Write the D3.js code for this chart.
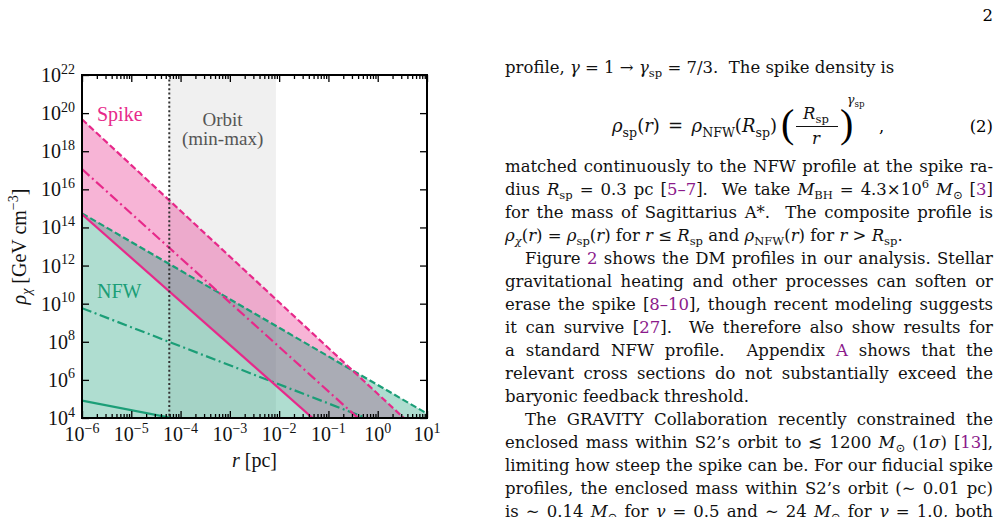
<!DOCTYPE html>
<html>
<head>
<meta charset="utf-8">
<script src="https://cdn.jsdelivr.net/npm/d3@7"></script>
<style>
  html, body { margin: 0; padding: 0; background: #fff; }
  svg { display: block; font-family: "Liberation Serif", "Times New Roman", serif; }
</style>
</head>
<body>
<svg id="page" width="1001" height="517"></svg>
<script>
// ---- Data (straight lines in log-log, so two ends each) ----
const radiusEnds = [1e-6, 10];                       // r [pc]
const profileNames = ['gamma 0.5', 'gamma 1', 'gamma 1.5'];
const nfwDensity = [[8.1e4, 2.6e1], [5.8e9, 5.8e2], [5.5e14, 1.7e4]];        // GeV cm^-3
const spikeDensity = [[4.9e14, 4.9e-2], [1.15e17, 5.4e0], [4.7e19, 7.4e2]];  // GeV cm^-3
const orbitRange = [5.9e-5, 8.6e-3];                 // S2 orbit, pc
const xTickExps = [-6, -5, -4, -3, -2, -1, 0, 1];
const yTickExps = [4, 6, 8, 10, 12, 14, 16, 18, 20, 22];

// ---- Right column text (simple markup: $italic$, @link@, _{sub}, ^{sup}, * = italic inside sub/sup) ----
const bodyLines = [
  { t: 'matched continuously to the NFW profile at the spike ra-', j: true },
  { t: 'dius $R$_{sp} = 0.3 pc [@5–7@].  We take $M$_{BH} = 4.3×10^{6} $M$_{⊙} [@3@]', j: true },
  { t: 'for the mass of Sagittarius A*.  The composite profile is', j: true },
  { t: '$ρ$_{*χ}($r$) = $ρ$_{sp}($r$) for $r$ ≤ $R$_{sp} and $ρ$_{NFW}($r$) for $r$ > $R$_{sp}.', j: false },
  { t: 'Figure @2@ shows the DM profiles in our analysis. Stellar', j: true, indent: true },
  { t: 'gravitational heating and other processes can soften or', j: true },
  { t: 'erase the spike [@8–10@], though recent modeling suggests', j: true },
  { t: 'it can survive [@27@].  We therefore also show results for', j: true },
  { t: 'a standard NFW profile.  Appendix @A@ shows that the', j: true },
  { t: 'relevant cross sections do not substantially exceed the', j: true },
  { t: 'baryonic feedback threshold.', j: false },
  { t: 'The GRAVITY Collaboration recently constrained the', j: true, indent: true },
  { t: 'enclosed mass within S2’s orbit to ≲ 1200 $M$_{⊙} (1$σ$) [@13@],', j: true },
  { t: 'limiting how steep the spike can be. For our fiducial spike', j: true },
  { t: 'profiles, the enclosed mass within S2’s orbit (∼ 0.01 pc)', j: true },
  { t: 'is ∼ 0.14 $M$_{⊙} for $γ$ = 0.5 and ∼ 24 $M$_{⊙} for $γ$ = 1.0, both', j: true }
];

const config = {
  plot: { left: 82, right: 427, top: 75, bottom: 418 },
  green: '#1b9e77',
  pink: '#e7298a',
  fillAlpha: 0.35,
  fontSize: 16.5,
  bodyFont: '"DejaVu Serif", "Liberation Serif", serif',
  linkColor: '#8b1a8b',
  textLeft: 505,
  textRight: 993,
  lineHeight: 23
};
const dashes = [null, '10,3.5,2,3.5', '6.5,3'];

const svg = d3.select('#page');
const P = config.plot;

const x = d3.scaleLog().domain([1e-6, 10]).range([P.left, P.right]);
const y = d3.scaleLog().domain([1e4, 1e22]).range([P.bottom, P.top]);

// markup -> segments
function parseMarkup(s) {
  const re = /(\$[^$]*\$|@[^@]*@|_\{[^}]*\}|\^\{[^}]*\})/;
  return s.split(re).filter(d => d.length).map(d => {
    if (d[0] === '$') return { t: d.slice(1, -1), italic: true };
    if (d[0] === '@') return { t: d.slice(1, -1), link: true };
    if (d[0] === '_' || d[0] === '^') {
      let c = d.slice(2, -1);
      const it = c[0] === '*';
      if (it) c = c.slice(1);
      return { t: c, shift: d[0] === '_' ? 'sub' : 'sup', italic: it };
    }
    return { t: d };
  });
}

function richText(parent, markup, px, py, size, opts = {}) {
  const txt = parent.append('text')
    .attr('x', px).attr('y', py)
    .attr('font-size', size)
    .attr('fill', opts.fill || '#111')
    .attr('text-anchor', opts.anchor || 'start')
    .style('white-space', 'pre');
  if (opts.transform) txt.attr('transform', opts.transform);
  let cur = 0;
  parseMarkup(markup).forEach(seg => {
    const target = seg.shift === 'sub' ? size * 0.27 : seg.shift === 'sup' ? -size * 0.42 : 0;
    const ts = txt.append('tspan').text(seg.t);
    if (target !== cur) { ts.attr('dy', target - cur); cur = target; }
    if (seg.shift) ts.attr('font-size', size * 0.7);
    if (seg.italic) ts.attr('font-style', 'italic');
    if (seg.link) ts.attr('fill', config.linkColor);
  });
  return txt;
}

// stretch the spaces of a line so it spans [x0, x1]
function justify(t, x0, x1) {
  const natural = t.node().getComputedTextLength();
  const spaces = (t.text().match(/ /g) || []).length;
  t.attr('word-spacing', (x1 - x0 - natural) / Math.max(spaces, 1));
}

// ---------------- Chart ----------------
const chart = svg.append('g');

chart.append('defs').append('clipPath').attr('id', 'plot-clip')
  .append('rect')
  .attr('x', P.left).attr('y', P.top)
  .attr('width', P.right - P.left).attr('height', P.bottom - P.top);

const body = chart.append('g').attr('clip-path', 'url(#plot-clip)');

// orbit band
body.append('rect')
  .attr('x', x(orbitRange[0])).attr('y', P.top)
  .attr('width', x(orbitRange[1]) - x(orbitRange[0]))
  .attr('height', P.bottom - P.top)
  .attr('fill', '#f0f0f0');

const asPoints = vals => radiusEnds.map((r, i) => ({ r, rho: vals[i] }));

// pink fill between lowest and highest spike
const spikeBand = radiusEnds.map((r, i) => ({ r, lo: spikeDensity[0][i], hi: spikeDensity[2][i] }));
body.append('path')
  .datum(spikeBand)
  .attr('d', d3.area().x(d => x(d.r)).y0(d => y(d.lo)).y1(d => y(d.hi)))
  .attr('fill', config.pink)
  .attr('fill-opacity', config.fillAlpha);

// green fill from floor to the steepest NFW
body.append('path')
  .datum(asPoints(nfwDensity[2]))
  .attr('d', d3.area().x(d => x(d.r)).y0(y(1e4)).y1(d => y(d.rho)))
  .attr('fill', config.green)
  .attr('fill-opacity', config.fillAlpha);

const line = d3.line().x(d => x(d.r)).y(d => y(d.rho));

profileNames.forEach((name, i) => {
  body.append('path')
    .datum(asPoints(nfwDensity[i]))
    .attr('class', 'nfw ' + name)
    .attr('d', line)
    .attr('fill', 'none')
    .attr('stroke', config.green)
    .attr('stroke-width', 2.2)
    .attr('stroke-dasharray', dashes[i]);
});
profileNames.forEach((name, i) => {
  body.append('path')
    .datum(asPoints(spikeDensity[i]))
    .attr('class', 'spike ' + name)
    .attr('d', line)
    .attr('fill', 'none')
    .attr('stroke', config.pink)
    .attr('stroke-width', 2.2)
    .attr('stroke-dasharray', dashes[i]);
});

// S2 pericentre marker
body.append('line')
  .attr('x1', x(orbitRange[0])).attr('x2', x(orbitRange[0]))
  .attr('y1', P.top).attr('y2', P.bottom)
  .attr('stroke', '#333')
  .attr('stroke-width', 2)
  .attr('stroke-dasharray', '2,2.4');

// annotations
const bandMid = (x(orbitRange[0]) + x(orbitRange[1])) / 2;
chart.append('text').attr('x', bandMid).attr('y', 126).attr('text-anchor', 'middle')
  .attr('font-size', 19).attr('fill', '#555').text('Orbit');
chart.append('text').attr('x', bandMid).attr('y', 145).attr('text-anchor', 'middle')
  .attr('font-size', 19).attr('fill', '#555').text('(min-max)');
chart.append('text').attr('x', 97).attr('y', 121).attr('font-size', 20)
  .attr('fill', config.pink).text('Spike');
chart.append('text').attr('x', 97).attr('y', 298).attr('font-size', 20)
  .attr('fill', config.green).text('NFW');

// axes: ticks pointing inwards
const majorX = xTickExps.map(e => Math.pow(10, e));
const minorX = [];
xTickExps.slice(0, -1).forEach(e => { for (let k = 2; k <= 9; k++) minorX.push(k * Math.pow(10, e)); });
const majorY = yTickExps.map(e => Math.pow(10, e));

function styleAxis(g) {
  g.select('.domain').remove();
  g.selectAll('.tick line').attr('stroke', '#000').attr('stroke-width', 1.3);
}
chart.append('g').attr('transform', `translate(0,${P.bottom})`)
  .call(d3.axisBottom(x).tickValues(majorX).tickSize(-7).tickFormat('')).call(styleAxis);
chart.append('g').attr('transform', `translate(0,${P.bottom})`)
  .call(d3.axisBottom(x).tickValues(minorX).tickSize(-4).tickFormat('')).call(styleAxis);
chart.append('g').attr('transform', `translate(0,${P.top})`)
  .call(d3.axisTop(x).tickValues(majorX).tickSize(-7).tickFormat('')).call(styleAxis);
chart.append('g').attr('transform', `translate(0,${P.top})`)
  .call(d3.axisTop(x).tickValues(minorX).tickSize(-4).tickFormat('')).call(styleAxis);
chart.append('g').attr('transform', `translate(${P.left},0)`)
  .call(d3.axisLeft(y).tickValues(majorY).tickSize(-7).tickFormat('')).call(styleAxis);
chart.append('g').attr('transform', `translate(${P.right},0)`)
  .call(d3.axisRight(y).tickValues(majorY).tickSize(-7).tickFormat('')).call(styleAxis);

// frame
chart.append('rect')
  .attr('x', P.left).attr('y', P.top)
  .attr('width', P.right - P.left).attr('height', P.bottom - P.top)
  .attr('fill', 'none').attr('stroke', '#000').attr('stroke-width', 2);

// tick labels
xTickExps.forEach(e => {
  richText(chart, '10^{' + String(e).replace('-', '−') + '}', x(Math.pow(10, e)), 441, 20, { anchor: 'middle' });
});
yTickExps.forEach(e => {
  richText(chart, '10^{' + e + '}', 75, y(Math.pow(10, e)) + 7, 20, { anchor: 'end' });
});

// axis titles
richText(chart, '$r$ [pc]', (P.left + P.right) / 2, 467, 20, { anchor: 'middle' });
richText(chart, '$ρ$_{*χ} [GeV cm^{−3}]', 0, 0, 20,
  { anchor: 'middle', transform: `translate(26,${(P.top + P.bottom) / 2}) rotate(-90)` });

// ---------------- Page text ----------------
const page = svg.append('g').attr('font-family', config.bodyFont);
const fs = config.fontSize;

page.append('text').attr('x', 993).attr('y', 21).attr('text-anchor', 'end')
  .attr('font-size', fs).text('2');

richText(page, 'profile, $γ$ = 1 → $γ$_{sp} = 7/3.  The spike density is', config.textLeft, 73, fs);

// display equation (2)
const eqBase = 132;
const eqLeft = richText(page, '$ρ$_{sp}($r$) = $ρ$_{NFW}($R$_{sp})', 612, eqBase, 18);
justify(eqLeft, 612, 777);
page.append('text').attr('x', 781).attr('y', eqBase + 5).attr('font-size', 40)
  .attr('font-family', 'Liberation Serif').text('(');
richText(page, '$R$_{sp}', 816, 119, fs, { anchor: 'middle' });
page.append('line').attr('x1', 796).attr('x2', 838).attr('y1', 126.5).attr('y2', 126.5)
  .attr('stroke', '#111').attr('stroke-width', 1);
richText(page, '$r$', 816, 144, fs, { anchor: 'middle' });
page.append('text').attr('x', 840).attr('y', eqBase + 5).attr('font-size', 40)
  .attr('font-family', 'Liberation Serif').text(')');
richText(page, '$γ$_{sp}', 847, 104, 12.5);
page.append('text').attr('x', 879).attr('y', eqBase).attr('font-size', fs).text(',');
page.append('text').attr('x', config.textRight).attr('y', eqBase).attr('text-anchor', 'end')
  .attr('font-size', fs).text('(2)');

bodyLines.forEach((ln, i) => {
  const x0 = config.textLeft + (ln.indent ? 20 : 0);
  const t = richText(page, ln.t, x0, 172 + i * config.lineHeight, fs);
  if (ln.j) justify(t, x0, config.textRight);
});
</script>
</body>
</html>
